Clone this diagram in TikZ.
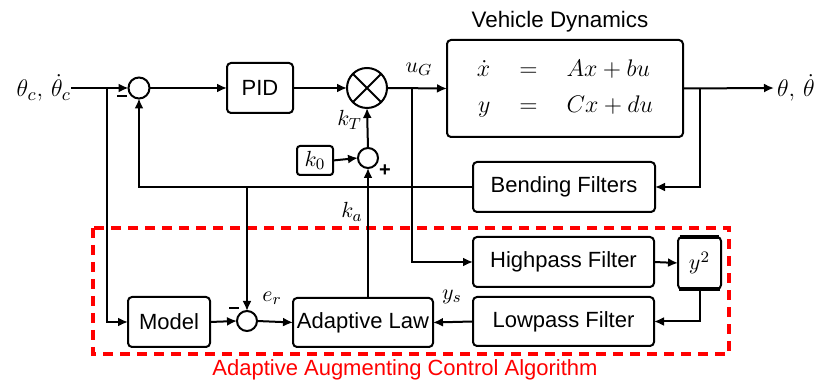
\documentclass[tikz,border=0pt]{standalone}
\usepackage{fontspec}
\newfontfamily\lab{Liberation Sans}
\usetikzlibrary{arrows.meta,calc}
\begin{document}
\begin{tikzpicture}[x=0.5pt,y=-0.5pt,
  every node/.style={inner sep=0pt,outer sep=0pt},
  blk/.style={draw,line width=1pt,rounded corners=2pt,font=\lab\fontsize{11}{13}\selectfont,align=center},
  sumc/.style={draw,line width=1pt,circle,minimum size=#1},
  wire/.style={line width=1pt},
  arr/.style={line width=1pt,-{Latex[length=5pt,width=4.5pt]}},
  sgn/.style={line width=1.3pt},
  sym/.style={font=\lab\bfseries\fontsize{10}{12}\selectfont},
  mlab/.style={font=\fontsize{11}{13}\selectfont},
  biglab/.style={font=\fontsize{12.5}{15}\selectfont}]
\useasboundingbox (0,0) rectangle (815,383);
% nodes
\node[biglab,anchor=east] (inlab) at (71,88) {$\theta_c,\,\dot\theta_c$};
\coordinate (b1) at (107,88);
\node[sumc=10.5pt] (s1) at (139,88) {};
\node[blk,minimum width=33pt,minimum height=25pt] (pid) at (260,88) {PID};
\node[sumc=20pt] (mul) at (367,88) {};
\draw[line width=1pt] (mul.north west) -- (mul.south east) (mul.north east) -- (mul.south west);
\node[blk,minimum width=118pt,minimum height=48.5pt] (vd) at (565,88.5)
  {\normalfont\fontsize{12}{14.5}\selectfont\arraycolsep=7.25pt$\begin{array}{rcl}\dot x &=& Ax+bu\\[3.5pt] y &=& Cx+du\end{array}$};
\node[font=\lab\fontsize{11.2}{13}\selectfont] (vdt) at (560,22) {Vehicle Dynamics};
\coordinate (ug) at (412,88);
\node[mlab] (uglab) at (419,69) {$u_G$};
\coordinate (ob) at (700,88);
\coordinate (oend) at (774,88);
\node[biglab,anchor=west] (olab) at (777,88) {$\theta,\,\dot\theta$};
\node[blk,minimum width=91pt,minimum height=25pt] (bend) at (564,187) {Bending Filters};
\coordinate (fbc) at (139,187);
\coordinate (erb) at (247,187);
\node[blk,minimum width=18pt,minimum height=14.5pt,rounded corners=1.5pt] (k0) at (315,160.5) {$k_0$};
\node[sumc=10pt] (s2) at (368,158) {};
\node[mlab,anchor=east] (kt) at (362,120) {$k_T$};
\node[mlab] (ka) at (352,212) {$k_a$};
\coordinate (m1) at (122,96);
\draw[sgn] ($(m1)+(-5,0)$) -- ($(m1)+(5,0)$);
\node[sym] (p2) at (385,171) {+};
% adaptive part
\node[blk,minimum width=41pt,minimum height=25pt] (model) at (169,322) {Model};
\node[sumc=10pt] (er) at (247,321) {};
\coordinate (m2) at (234,308);
\draw[sgn] ($(m2)+(-5,0)$) -- ($(m2)+(5,0)$);
\node[mlab] (erlab) at (272,298) {$e_r$};
\node[blk,minimum width=70pt,minimum height=24.5pt] (adapt) at (363,322.5) {Adaptive Law};
\node[blk,minimum width=90.5pt,minimum height=25pt] (hp) at (563.5,262) {Highpass Filter};
\node[blk,minimum width=21.5pt,minimum height=26pt] (ysq) at (699.5,263) {$y^2$};
\draw[line width=2pt] ([xshift=0.6pt]ysq.south west) -- ([xshift=-0.6pt]ysq.south east);
\draw[line width=1.6pt] ([xshift=0.8pt]ysq.north west) -- ([xshift=-0.8pt]ysq.north east);
\node[blk,minimum width=90.5pt,minimum height=24.5pt] (lp) at (563.5,321.5) {Lowpass Filter};
\node[mlab] (yslab) at (452,297) {$y_s$};
\draw[red,line width=2pt,dash pattern=on 5pt off 3.5pt] (93,228) rectangle (729,354);
\node[red,font=\lab\fontsize{11}{13}\selectfont] (cap) at (405,370) {Adaptive Augmenting Control Algorithm};
% connectors
\draw[wire] (inlab.east) -- (b1);
\draw[arr] (b1) -- (s1.west);
\draw[arr] (s1.east) -- (pid.west);
\draw[arr] (pid.east) -- (mul.west);
\draw[arr] (mul.east) -- (vd.west);
\draw[arr] (vd.east) -- (oend);
\draw[arr] (ob) |- (bend.east);
\draw[arr] (bend.west) -- (fbc) -- (s1.south);
\draw[arr] (k0.east) -- (s2.west);
\draw[arr] (s2.north) -- (mul.south);
\draw[arr] (s2.south |- adapt.north) -- (s2.south);
\draw[arr] (erb) -- (er.north);
\draw[arr] (b1) |- (model.west);
\draw[arr] (model.east) -- (er.west);
\draw[arr] (er.east) -- (adapt.west);
\draw[arr] (ug) |- (hp.west);
\draw[arr] (hp.east) -- (ysq.west);
\draw[arr] (ysq.south) |- (lp.east);
\draw[arr] (lp.west) -- (adapt.east);
\end{tikzpicture}
\end{document}
